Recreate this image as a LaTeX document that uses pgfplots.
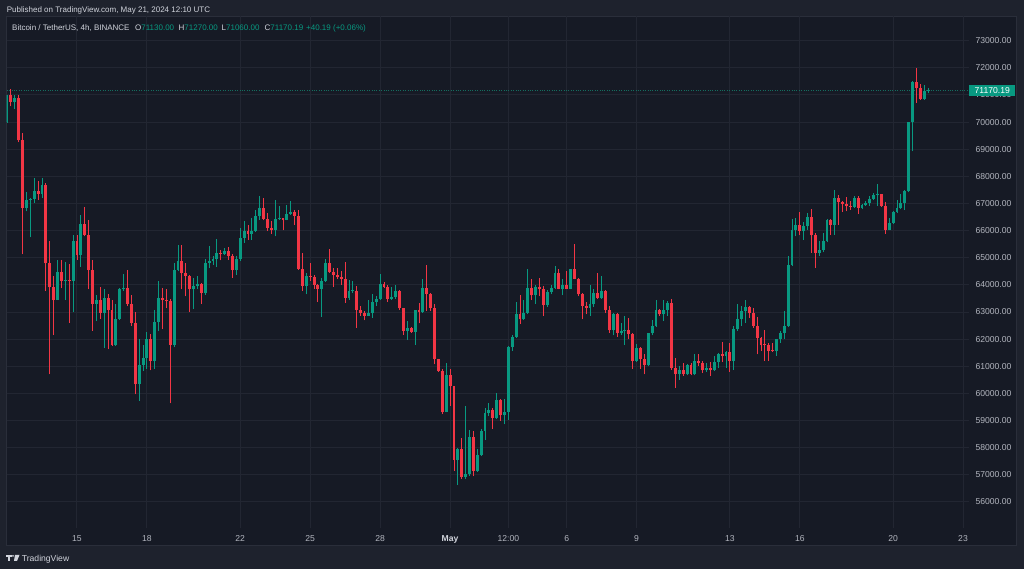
\documentclass[border=0pt]{standalone}
\usepackage{fontspec}
\setmainfont{Liberation Sans}
\usepackage{pgfplots}
\usepackage{pgfplotstable}
\pgfplotsset{compat=1.18}
\definecolor{surr}{RGB}{30,34,45}
\definecolor{pane}{RGB}{22,26,37}
\definecolor{paneb}{RGB}{42,46,58}
\definecolor{gridc}{RGB}{34,38,50}
\definecolor{upc}{RGB}{8,153,129}
\definecolor{dnc}{RGB}{242,54,69}
\definecolor{lab}{RGB}{178,181,190}
\definecolor{txt}{RGB}{209,212,220}
\definecolor{pline}{RGB}{20,110,95}
\pgfplotstableread{
k o h l c
0 70.000 71.000 69.980 70.980
1 70.980 71.210 70.580 70.750
2 70.750 70.980 70.500 70.900
3 70.900 70.980 69.250 69.330
4 69.330 69.600 65.120 66.830
5 66.830 67.430 66.710 67.140
6 67.140 67.200 65.750 67.180
7 67.180 67.950 67.020 67.470
8 67.470 67.830 67.140 67.360
9 67.360 67.950 67.200 67.680
10 67.680 67.750 63.770 64.790
11 64.790 65.620 60.700 63.910
12 63.910 64.320 62.150 63.440
13 63.440 64.900 63.440 64.480
14 64.480 64.920 63.870 64.160
15 64.160 64.860 63.460 64.190
16 64.190 64.770 62.600 64.160
17 64.160 65.820 62.990 65.630
18 65.630 65.850 64.930 65.100
19 65.100 66.570 64.670 66.230
20 66.230 66.880 65.790 65.850
21 65.850 66.400 63.830 64.560
22 64.560 64.900 62.300 63.300
23 63.300 63.640 62.660 63.440
24 63.440 63.910 62.760 62.970
25 62.970 63.830 61.680 63.520
26 63.520 63.670 61.620 63.090
27 63.090 63.460 61.740 61.780
28 61.780 63.280 61.740 62.760
29 62.760 63.900 62.700 63.830
30 63.830 64.400 63.770 63.890
31 63.890 64.530 63.210 63.300
32 63.300 63.610 62.480 62.600
33 62.600 63.000 59.960 60.330
34 60.330 61.990 59.720 61.040
35 61.040 61.780 60.820 61.310
36 61.310 62.260 60.910 62.010
37 62.010 62.200 60.850 61.190
38 61.190 63.090 60.910 62.620
39 62.620 64.130 62.290 63.520
40 63.520 63.890 62.360 63.450
41 63.450 63.830 63.150 63.420
42 63.420 63.470 59.630 61.800
43 61.800 64.810 61.700 64.560
44 64.560 65.480 64.500 64.890
45 64.890 65.460 63.830 64.440
46 64.440 64.810 63.580 64.320
47 64.320 64.380 63.000 63.830
48 63.830 64.260 63.120 63.970
49 63.970 64.320 63.830 64.020
50 64.020 64.060 63.310 63.700
51 63.700 64.970 63.640 64.810
52 64.810 65.420 64.620 64.890
53 64.890 65.080 64.750 64.970
54 64.970 65.690 64.660 65.180
55 65.180 65.300 64.900 65.120
56 65.120 65.360 65.110 65.260
57 65.260 65.390 64.930 65.050
58 65.050 65.120 64.260 64.560
59 64.560 65.050 64.380 64.960
60 64.960 66.100 64.870 65.730
61 65.730 66.340 65.550 66.000
62 66.000 66.220 65.670 65.880
63 65.880 66.470 65.670 66.000
64 66.000 66.750 65.940 66.530
65 66.530 67.260 66.400 66.830
66 66.830 67.200 66.380 66.430
67 66.430 66.650 65.980 66.100
68 66.100 66.340 65.880 66.040
69 66.040 67.140 65.790 66.430
70 66.430 66.920 66.400 66.470
71 66.470 66.480 66.010 66.400
72 66.400 66.960 66.380 66.630
73 66.630 67.080 66.590 66.680
74 66.680 66.750 66.220 66.550
75 66.550 66.750 64.560 64.600
76 64.600 65.180 63.770 63.950
77 63.950 64.440 63.650 64.320
78 64.320 64.790 64.150 64.290
79 64.290 64.380 63.850 64.010
80 64.010 64.050 63.360 63.850
81 63.850 64.260 62.820 64.160
82 64.160 64.960 64.100 64.790
83 64.790 65.330 64.440 64.490
84 64.490 64.630 63.930 64.380
85 64.380 64.630 64.220 64.300
86 64.300 64.500 64.010 64.220
87 64.220 64.840 63.340 63.520
88 63.520 64.170 63.460 63.770
89 63.770 64.140 63.700 63.790
90 63.790 63.950 62.420 63.090
91 63.090 63.220 62.870 62.970
92 62.970 63.050 62.690 62.870
93 62.870 63.440 62.850 62.970
94 62.970 63.680 62.790 63.360
95 63.360 63.580 63.220 63.490
96 63.490 64.410 63.460 64.050
97 64.050 64.110 63.890 63.930
98 63.930 63.980 63.360 63.490
99 63.490 63.930 63.440 63.560
100 63.560 63.980 63.490 63.770
101 63.770 63.800 63.090 63.130
102 63.130 63.150 62.170 62.300
103 62.300 62.660 61.960 62.420
104 62.420 62.430 62.230 62.260
105 62.260 63.070 61.800 63.060
106 63.060 63.340 62.580 63.000
107 63.000 64.230 62.970 63.890
108 63.890 64.750 63.030 63.670
109 63.670 63.700 63.030 63.150
110 63.150 63.280 61.070 61.250
111 61.250 61.280 60.790 60.820
112 60.820 60.890 59.230 59.310
113 59.310 61.110 59.300 60.690
114 60.690 60.890 59.540 60.260
115 60.260 60.290 57.140 57.550
116 57.550 58.000 56.620 57.940
117 57.940 58.370 56.840 56.920
118 56.920 59.520 56.850 57.020
119 57.020 58.650 56.960 58.400
120 58.400 58.620 56.940 57.150
121 57.150 57.940 57.100 57.720
122 57.720 58.680 57.700 58.620
123 58.620 59.470 58.280 59.290
124 59.290 59.630 59.170 59.380
125 59.380 59.470 58.680 59.110
126 59.110 60.030 59.060 59.760
127 59.760 59.780 58.980 59.190
128 59.190 59.780 58.860 59.320
129 59.320 61.740 59.020 61.720
130 61.720 62.140 61.560 62.090
131 62.090 63.360 62.050 62.910
132 62.910 63.620 62.570 62.730
133 62.730 63.460 62.700 62.970
134 62.970 64.570 62.940 63.890
135 63.890 64.200 63.460 63.610
136 63.610 64.010 63.310 63.930
137 63.930 64.260 63.580 63.860
138 63.860 63.950 62.850 63.240
139 63.240 63.800 63.200 63.740
140 63.740 63.980 63.650 63.890
141 63.890 64.690 63.850 64.440
142 64.440 64.570 63.830 63.850
143 63.850 64.200 63.610 64.010
144 64.010 64.500 63.830 63.850
145 63.850 64.590 63.830 64.570
146 64.570 65.520 64.200 64.220
147 64.220 64.250 63.580 63.650
148 63.650 63.700 62.730 63.230
149 63.230 63.360 62.910 63.150
150 63.150 64.010 62.870 63.280
151 63.280 63.850 63.200 63.710
152 63.710 64.440 63.490 63.520
153 63.520 64.340 63.490 63.770
154 63.770 63.800 62.970 63.070
155 63.070 63.220 62.230 62.320
156 62.320 62.970 62.140 62.910
157 62.910 62.970 62.090 62.230
158 62.230 62.600 62.170 62.300
159 62.300 62.850 61.800 62.320
160 62.320 62.790 61.990 62.200
161 62.200 62.220 60.910 61.190
162 61.190 61.810 61.170 61.680
163 61.680 61.720 60.910 61.250
164 61.250 61.440 60.700 61.030
165 61.030 62.230 61.000 62.210
166 62.210 62.700 62.140 62.480
167 62.480 63.460 62.460 63.090
168 63.090 63.120 62.850 62.910
169 62.910 63.440 62.660 63.090
170 63.090 63.400 62.850 63.340
171 63.340 63.490 60.880 60.930
172 60.930 61.310 60.210 60.700
173 60.700 61.010 60.490 60.850
174 60.850 61.130 60.650 60.700
175 60.700 61.090 60.660 61.030
176 61.030 61.130 60.660 60.700
177 60.700 61.440 60.660 61.190
178 61.190 61.440 61.010 61.130
179 61.130 61.180 60.760 60.850
180 60.850 61.130 60.780 60.950
181 60.950 61.150 60.640 60.850
182 60.850 61.380 60.820 61.170
183 61.170 61.500 60.950 61.440
184 61.440 61.900 61.150 61.380
185 61.380 61.560 60.950 61.520
186 61.520 61.870 60.790 61.190
187 61.190 62.480 60.860 62.360
188 62.360 63.300 62.300 62.750
189 62.750 63.220 62.480 63.030
190 63.030 63.460 62.600 63.190
191 63.190 63.220 62.790 62.950
192 62.950 63.150 62.420 62.480
193 62.480 62.820 61.440 62.050
194 62.050 62.080 61.560 61.800
195 61.800 62.320 61.190 61.780
196 61.780 61.870 61.190 61.580
197 61.580 61.870 61.520 61.560
198 61.560 62.010 61.380 61.990
199 61.990 62.300 61.870 62.210
200 62.210 63.030 61.990 62.480
201 62.480 65.060 62.450 64.750
202 64.750 66.430 64.700 66.010
203 66.010 66.470 65.790 66.220
204 66.220 66.690 65.820 65.980
205 65.980 66.310 65.670 66.160
206 66.160 66.650 66.040 66.500
207 66.500 66.800 65.180 65.820
208 65.820 65.900 64.630 65.180
209 65.180 65.610 65.060 65.280
210 65.280 65.910 65.200 65.610
211 65.610 66.430 65.570 66.400
212 66.400 66.430 65.850 66.220
213 66.220 67.480 65.850 67.200
214 67.200 67.330 66.220 67.040
215 67.040 67.100 66.680 66.990
216 66.990 67.240 66.710 66.900
217 66.900 67.080 66.770 66.870
218 66.870 67.260 66.830 67.200
219 67.200 67.260 66.630 66.830
220 66.830 66.990 66.800 66.930
221 66.930 67.080 66.900 67.020
222 67.020 67.260 66.900 67.170
223 67.170 67.390 67.140 67.330
224 67.330 67.720 66.900 67.350
225 67.350 67.360 66.880 66.900
226 66.900 67.040 65.890 66.040
227 66.040 66.470 66.010 66.280
228 66.280 66.710 66.250 66.680
229 66.680 67.140 66.650 66.830
230 66.830 67.360 66.780 67.020
231 67.020 67.510 66.770 67.450
232 67.450 70.020 67.410 69.990
233 69.990 71.500 68.920 71.460
234 71.460 71.990 70.720 71.250
235 71.250 71.410 70.820 70.850
236 70.850 71.370 70.820 71.130
237 71.130 71.270 71.060 71.170
}\candles
\pgfplotsset{
  candle/.style n args={2}{draw=none, mark=none, forget plot,
    /pgfplots/error bars/y dir=plus,
    /pgfplots/error bars/y explicit,
    /pgfplots/error bars/error mark=none,
    /pgfplots/error bars/error bar style={draw=#1, line width=#2, line cap=butt, solid}},
}
\begin{document}
\begin{tikzpicture}
\useasboundingbox (0pt,0pt) rectangle (1024pt,569pt);
\fill[surr] (0pt,0pt) rectangle (1024pt,569pt);
\filldraw[fill=pane, draw=paneb, line width=0.8pt] (6.7pt,23.3pt) rectangle (1016.7pt,553pt);
\begin{axis}[
  at={(6.7pt,41pt)}, anchor=south west,
  scale only axis, width=962.3pt, height=512pt,
  xmin=-0.09, xmax=247.54, ymin=55.039, ymax=73.910,
  axis line style={draw=none},
  tick style={draw=none},
  xtick={18,36,60,78,96,114,129,144,162,186,204,228,246},
  xticklabels={15,18,22,25,28,{\color{txt}\bfseries May},12:00,6,9,13,16,20,23},
  ytick={56,57,...,73},
  yticklabels={56000.00,57000.00,58000.00,59000.00,60000.00,61000.00,62000.00,63000.00,64000.00,65000.00,66000.00,67000.00,68000.00,69000.00,70000.00,71000.00,72000.00,73000.00},
  yticklabel pos=right,
  grid=major,
  major grid style={draw=gridc, line width=1pt},
  ticklabel style={font=\fontsize{8.6}{10}\selectfont, text=lab},
  yticklabel style={anchor=west, xshift=3pt},
  xticklabel style={anchor=north, yshift=-3.7pt},
]
% last price line (behind candles)
\addplot[draw=pline, line width=0.8pt, dash pattern=on 1pt off 1.4pt, mark=none, forget plot]
  coordinates {(-0.09,71.17019) (247.54,71.17019)};
% wicks
\addplot[restrict expr to domain={\thisrow{c}-\thisrow{o}}{0:100},
  candle={upc}{0.9pt}]
  table[x=k, y=l, y error expr=\thisrow{h}-\thisrow{l}] {\candles};
\addplot[restrict expr to domain={\thisrow{o}-\thisrow{c}}{0.0001:100},
  candle={dnc}{0.9pt}]
  table[x=k, y=l, y error expr=\thisrow{h}-\thisrow{l}] {\candles};
% bodies
\addplot[restrict expr to domain={\thisrow{c}-\thisrow{o}}{0:100},
  candle={upc}{2.9pt}]
  table[x=k, y=o, y error expr={max(\thisrow{c}-\thisrow{o},0.03)}] {\candles};
\addplot[restrict expr to domain={\thisrow{o}-\thisrow{c}}{0.0001:100},
  candle={dnc}{2.9pt}]
  table[x=k, y=c, y error expr={max(\thisrow{o}-\thisrow{c},0.03)}] {\candles};
\end{axis}
% last price label
\fill[upc] (969pt,473pt) rectangle (1015pt,483.5pt);
\node[anchor=base west, inner sep=0pt, text=white, font=\fontsize{8.6}{10}\selectfont] at (974.5pt,475pt) {71170.19};
% header
\node[anchor=base west, inner sep=0pt, text=txt, font=\fontsize{8}{10}\selectfont] at (6.7pt,556.7pt) {Published on TradingView.com, May 21, 2024 12:10 UTC};
\begin{scope}[every node/.style={anchor=base west, inner sep=0pt, font=\fontsize{8}{10}\selectfont}]
\node[text=txt] at (12pt,538.3pt) {Bitcoin / TetherUS, 4h, BINANCE};
\node at (135pt,538.3pt) {\textcolor{txt}{O}\textcolor{upc}{71130.00}};
\node at (178.5pt,538.3pt) {\textcolor{txt}{H}\textcolor{upc}{71270.00}};
\node at (221.5pt,538.3pt) {\textcolor{txt}{L}\textcolor{upc}{71060.00}};
\node at (264.5pt,538.3pt) {\textcolor{txt}{C}\textcolor{upc}{71170.19}};
\node[text=upc] at (306pt,538.3pt) {+40.19 (+0.06\%)};
\end{scope}
% footer logo
\fill[txt] (6pt,14pt) rectangle (11.5pt,12pt);
\fill[txt] (8pt,12pt) rectangle (10pt,8pt);
\fill[txt] (13pt,13pt) circle (1pt);
\fill[txt] (15pt,14pt) -- (19.5pt,14pt) -- (17pt,8pt) -- (14pt,8pt) -- cycle;
\node[anchor=base west, inner sep=0pt, text=txt, font=\fontsize{8.6}{10}\selectfont] at (21.7pt,7.7pt) {TradingView};
\end{tikzpicture}
\end{document}
